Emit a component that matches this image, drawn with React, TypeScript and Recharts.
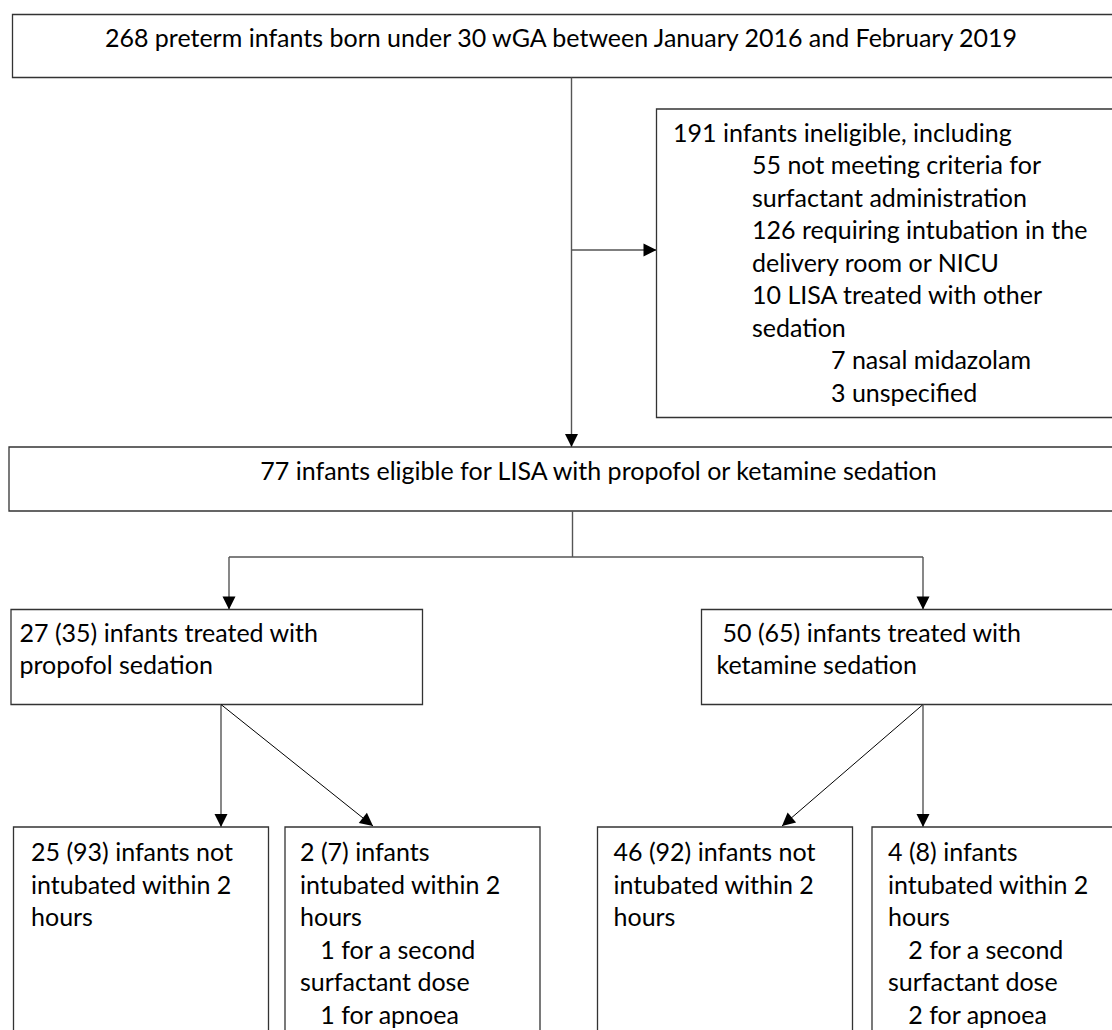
import React from 'react';
import { ScatterChart, XAxis, YAxis, ReferenceArea, ReferenceLine, Scatter } from 'recharts';

const W = 1112;
const H = 1030;
const FONT = 'Lato, "Open Sans", sans-serif';
const FONT_SIZE = 25;
const LINE = 32.5;

// ---- boxes (flowchart nodes) ----
const boxLeft = [12.5, 656.5, 9, 11, 701.5, 13.5, 285, 597.5, 872];
const boxRight = [1125, 1125, 1125, 422.5, 1125, 268.5, 540, 852.5, 1125];
const boxTop = [14.5, 109, 447, 609.5, 609.5, 827, 827, 827, 827];
const boxBottom = [77.5, 417.5, 511, 704.5, 704.5, 1045, 1045, 1045, 1045];

// ---- texts of each node ----
const screenedText = ['268 preterm infants born under 30 wGA between January 2016 and February 2019'];
const ineligibleText = [
  '191 infants ineligible, including',
  '55 not meeting criteria for',
  'surfactant administration',
  '126 requiring intubation in the',
  'delivery room or NICU',
  '10 LISA treated with other',
  'sedation',
  '7 nasal midazolam',
  '3 unspecified',
];
const ineligibleIndent = [0, 1, 1, 1, 1, 1, 1, 2, 2];
const eligibleText = ['77 infants eligible for LISA with propofol or ketamine sedation'];
const propofolText = ['27 (35) infants treated with', 'propofol sedation'];
const ketamineText = ['50 (65) infants treated with', 'ketamine sedation'];
const ketamineIndent = [0.08, 0];
const propNotText = ['25 (93) infants not', 'intubated within 2', 'hours'];
const propIntText = ['2 (7) infants', 'intubated within 2', 'hours', '1 for a second', 'surfactant dose', '1 for apnoea'];
const ketNotText = ['46 (92) infants not', 'intubated within 2', 'hours'];
const ketIntText = ['4 (8) infants', 'intubated within 2', 'hours', '2 for a second', 'surfactant dose', '2 for apnoea'];
const intIndent = [0, 0, 0, 0.27, 0, 0.27];

// text anchors: x, first baseline, indent step (px), anchor
const textBlocks = [
  { lines: screenedText, x: 561, y: 46.5, anchor: 'middle' },
  { lines: ineligibleText, x: 673, y: 141.5, step: 79, indent: ineligibleIndent, anchor: 'start' },
  { lines: eligibleText, x: 598.5, y: 480, anchor: 'middle' },
  { lines: propofolText, x: 19.5, y: 641.5, anchor: 'start' },
  { lines: ketamineText, x: 716.5, y: 641.5, step: 75, indent: ketamineIndent, anchor: 'start' },
  { lines: propNotText, x: 31, y: 861, anchor: 'start' },
  { lines: propIntText, x: 300, y: 861, step: 75, indent: intIndent, anchor: 'start' },
  { lines: ketNotText, x: 613.5, y: 861, anchor: 'start' },
  { lines: ketIntText, x: 888, y: 861, step: 75, indent: intIndent, anchor: 'start' },
];

// ---- connectors: [x1, y1, x2, y2, hasArrow] ----
const connX1 = [571.5, 571.5, 572.5, 229, 229, 923, 221, 221, 923, 923];
const connY1 = [77.5, 250, 511, 557, 557, 557, 704.5, 704.5, 704.5, 704.5];
const connX2 = [571.5, 656.5, 572.5, 923, 229, 923, 221, 373, 782, 923];
const connY2 = [447, 250, 557, 557, 609.5, 609.5, 827, 826, 826, 827];
const connArrow = [true, true, false, false, true, true, true, true, true, true];
const connDiagonal = [false, false, false, false, false, false, false, true, true, false];

const textPoints = textBlocks.flatMap((b) =>
  b.lines.map((t, i) => ({
    x: b.x + (b.indent ? b.indent[i] * (b.step || 0) : 0),
    y: b.y + i * LINE,
    t,
    anchor: b.anchor,
  }))
);

const arrowPoints = connX1
  .map((x1, i) => {
    const dx = connX2[i] - x1;
    const dy = connY2[i] - connY1[i];
    const len = Math.sqrt(dx * dx + dy * dy) || 1;
    return { x: connX2[i], y: connY2[i], ux: dx / len, uy: dy / len, on: connArrow[i] };
  })
  .filter((p) => p.on);

const TextShape = (props: any) => {
  const { cx, cy, payload } = props;
  return (
    <text
      x={cx}
      y={cy}
      textAnchor={payload.anchor}
      fontFamily={FONT}
      fontSize={FONT_SIZE}
      fill="#000"
    >
      {payload.t}
    </text>
  );
};

const ArrowShape = (props: any) => {
  const { cx, cy, payload } = props;
  const L = 13;
  const hw = 6.5;
  const { ux, uy } = payload;
  const bx = cx - ux * L;
  const by = cy - uy * L;
  const nx = -uy;
  const ny = ux;
  const pts = `${cx},${cy} ${bx + nx * hw},${by + ny * hw} ${bx - nx * hw},${by - ny * hw}`;
  return <polygon points={pts} fill="#000" stroke="none" />;
};

export default function App() {
  return (
    <div style={{ position: 'absolute', left: 0, top: 0, width: W, height: H, overflow: 'hidden', background: '#fff' }}>
      <ScatterChart width={W} height={H} margin={{ top: 0, right: 0, bottom: 0, left: 0 }}>
        <XAxis type="number" dataKey="x" domain={[0, W]} allowDataOverflow hide />
        <YAxis type="number" dataKey="y" domain={[0, H]} reversed allowDataOverflow hide />
        {boxLeft.map((x1, i) => (
          <ReferenceArea
            key={`box-${i}`}
            x1={x1}
            x2={boxRight[i]}
            y1={boxTop[i]}
            y2={boxBottom[i]}
            fill="none"
            stroke="#333"
            strokeWidth={1.3}
            ifOverflow="visible"
          />
        ))}
        {connX1.map((x1, i) => (
          <ReferenceLine
            key={`conn-${i}`}
            segment={[
              { x: x1, y: connY1[i] },
              { x: connX2[i], y: connY2[i] },
            ]}
            stroke={connDiagonal[i] ? '#000' : '#555'}
            strokeWidth={connDiagonal[i] ? 1 : 1.4}
            ifOverflow="visible"
          />
        ))}
        <Scatter data={arrowPoints} shape={ArrowShape} isAnimationActive={false} legendType="none" />
        <Scatter data={textPoints} shape={TextShape} isAnimationActive={false} legendType="none" />
      </ScatterChart>
    </div>
  );
}
